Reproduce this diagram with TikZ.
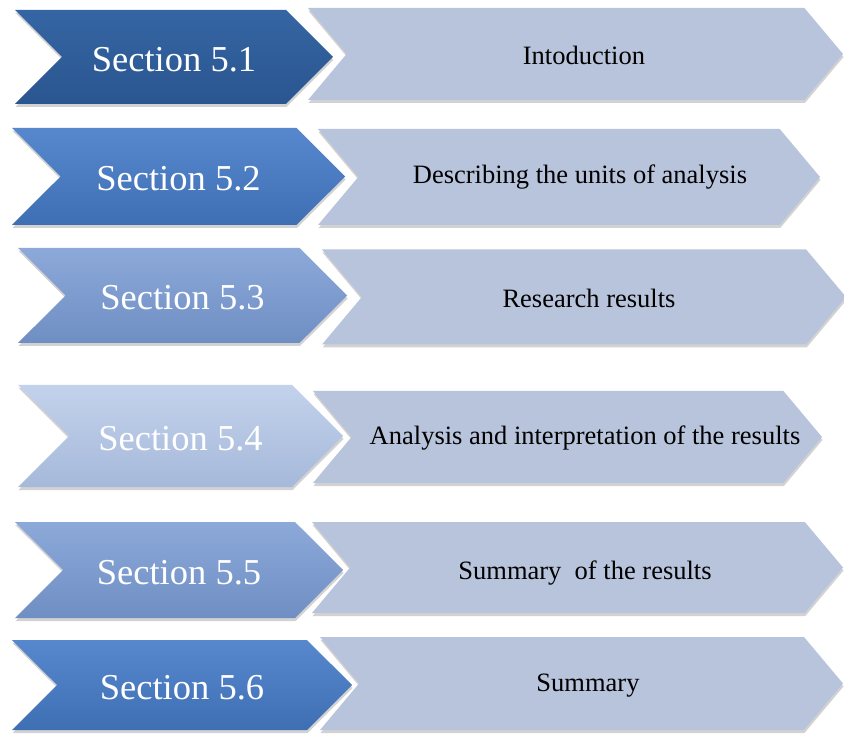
\documentclass[tikz,border=0pt]{standalone}
\usepackage{fontspec}
\setmainfont{Liberation Serif}
\usetikzlibrary{shapes.symbols, shadows}

\definecolor{tagdarktop}{HTML}{3565A3}
\definecolor{tagdarkbot}{HTML}{2A5690}
\definecolor{tagmidtop}{HTML}{5787CD}
\definecolor{tagmidbot}{HTML}{3F6FB3}
\definecolor{taglighttop}{HTML}{8CA9D9}
\definecolor{taglightbot}{HTML}{6F8EC3}
\definecolor{tagpaletop}{HTML}{C3D2EC}
\definecolor{tagpalebot}{HTML}{A6B9DA}
\definecolor{barfill}{HTML}{B8C4DB}

\begin{document}
\begin{tikzpicture}[
  x=1pt, y=-1pt,
  tag/.style={shape=signal, signal from=west, signal to=east, signal pointer angle=90,
    inner sep=0pt, text=white, font=\fontsize{36.5}{40}\selectfont,
    text height=29pt, text depth=0pt,
    drop shadow={shadow xshift=0.5pt, shadow yshift=-3pt, opacity=0.25, fill=black!70}},
  bar/.style={shape=signal, signal from=west, signal to=east, signal pointer angle=100,
    inner sep=0pt, fill=barfill,
    drop shadow={shadow xshift=0.5pt, shadow yshift=-3pt, opacity=0.25, fill=black!70}},
  bartext/.style={text=black, font=\fontsize{26.5}{30}\selectfont},
  dark/.style={top color=tagdarktop, bottom color=tagdarkbot},
  mid/.style={top color=tagmidtop, bottom color=tagmidbot},
  light/.style={top color=taglighttop, bottom color=taglightbot},
  pale/.style={top color=tagpaletop, bottom color=tagpalebot}
]
\useasboundingbox[fill=white] (0,0) rectangle (844,735);

% row 5.1
\node[bar] (bar1) at (575.5,54) [minimum width=535pt, minimum height=92pt] {};
\node[tag, dark] (tag1) at (174,57) [minimum width=318pt, minimum height=94pt] {Section 5.1};
\node[bartext] (txt1) at (584,55) {Intoduction};

% row 5.2
\node[bar] (bar2) at (569,177) [minimum width=502pt, minimum height=96pt] {};
\node[tag, mid] (tag2) at (178.5,176.5) [minimum width=333pt, minimum height=97pt] {Section 5.2};
\node[bartext] (txt2) at (580,177) {Describing the units of analysis};

% row 5.3
\node[bar] (bar3) at (584,297) [minimum width=524pt, minimum height=95pt] {};
\node[tag, light] (tag3) at (182.5,295.5) [minimum width=329pt, minimum height=95pt] {Section 5.3};
\node[bartext] (txt3) at (589,298) {Research results};

% row 5.4
\node[bar] (bar4) at (567.5,437) [minimum width=509pt, minimum height=92pt] {};
\node[tag, pale] (tag4) at (180.5,436) [minimum width=325pt, minimum height=102pt] {Section 5.4};
\node[bartext] (txt4) at (585,438) {Analysis and interpretation of the results};

% row 5.5
\node[bar] (bar5) at (577.5,567.5) [minimum width=531pt, minimum height=91pt] {};
\node[tag, light] (tag5) at (179,570) [minimum width=328pt, minimum height=96pt] {Section 5.5};
\node[bartext] (txt5) at (585,573) {Summary\ \ of the results};

% row 5.6
\node[bar] (bar6) at (581.5,683.5) [minimum width=523pt, minimum height=93pt] {};
\node[tag, mid] (tag6) at (182,685) [minimum width=340pt, minimum height=90pt] {Section 5.6};
\node[bartext] (txt6) at (588,686) {Summary};
\end{tikzpicture}
\end{document}
